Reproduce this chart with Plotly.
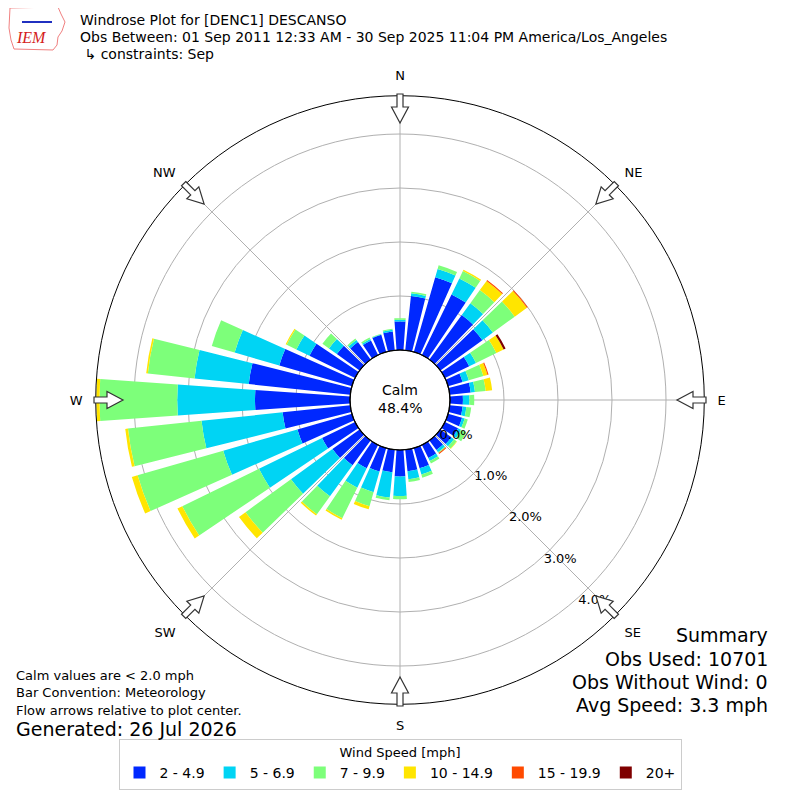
import numpy as np
import plotly.graph_objects as go

# wind directions (deg) and percent of obs per speed bin
directions = list(range(0, 360, 10))
bins = ["2 - 4.9", "5 - 6.9", "7 - 9.9", "10 - 14.9", "15 - 19.9", "20+"]
colors = ["#0028ff", "#00d4f4", "#7dff7a", "#ffe500", "#ff4a00", "#7f0000"]

spd_2_5 = [0.53, 1.01, 1.44, 1.25, 1.02, 0.96, 0.50, 0.28, 0.39, 0.24, 0.24, 0.27,
           0.27, 0.25, 0.22, 0.27, 0.39, 0.40, 0.49, 0.42, 0.45, 0.48, 0.57, 0.62,
           0.68, 1.05, 1.26, 1.76, 1.89, 1.40, 0.94, 0.52, 0.40, 0.30, 0.33, 0.35]
spd_5_7 = [0.03, 0.05, 0.16, 0.33, 0.27, 0.24, 0.14, 0.12, 0.08, 0.12, 0.07, 0.05,
           0.06, 0.06, 0.05, 0.06, 0.12, 0.15, 0.36, 0.47, 0.40, 0.40, 0.71, 0.95,
           1.30, 1.43, 1.51, 1.44, 1.01, 0.86, 0.27, 0.18, 0.05, 0.03, 0.01, 0.03]
spd_7_10 = [0.03, 0.03, 0.07, 0.15, 0.30, 0.50, 0.42, 0.28, 0.20, 0.09, 0.09, 0.06,
            0.11, 0.06, 0.02, 0.05, 0.06, 0.05, 0.06, 0.05, 0.27, 0.63, 0.41, 1.04,
            1.58, 1.65, 1.37, 1.44, 0.87, 0.44, 0.20, 0.15, 0.03, 0.03, 0.01, 0.02]
spd_10_15 = [0, 0, 0, 0.03, 0.21, 0.28, 0.15, 0.08, 0.12, 0, 0, 0,
             0, 0.01, 0, 0, 0, 0, 0, 0, 0.06, 0.03, 0.03, 0.15,
             0.10, 0.11, 0.05, 0.06, 0.03, 0, 0.02, 0, 0, 0, 0, 0]
spd_15_20 = [0, 0, 0, 0, 0.02, 0.02, 0, 0.02, 0, 0, 0, 0,
             0, 0, 0.02, 0, 0, 0, 0, 0, 0, 0, 0, 0,
             0, 0, 0, 0, 0, 0, 0, 0, 0, 0, 0, 0]
spd_20 = [0, 0, 0, 0, 0, 0, 0.04, 0, 0, 0, 0, 0,
          0, 0, 0, 0, 0, 0, 0, 0, 0, 0, 0, 0,
          0, 0, 0, 0, 0, 0, 0, 0, 0, 0, 0, 0]
series = [spd_2_5, spd_5_7, spd_7_10, spd_10_15, spd_15_20, spd_20]

compass = [0, 45, 90, 135, 180, 225, 270, 315]
compass_txt = ["N", "NE", "E", "SE", "S", "SW", "W", "NW"]
rticks = [0, 1, 2, 3, 4]
calm_pct = 48.4

# page has an 8px body margin, so lay out in screen px and shift
OFF = 8
FW = FH = 792
cx, cy = 400, 400          # plot center on screen (px)
R_out = 304.3              # outer circle radius (px)
hole = 50 / R_out
half = R_out / FW
pcx = (cx - OFF) / FW
pcy = 1 - (cy - OFF) / FH


def P(x, y):
    return (x - OFF) / FW, 1 - (y - OFF) / FH


fig = go.Figure()
for name, col, vals in zip(bins, colors, series):
    fig.add_trace(go.Barpolar(r=vals, theta=directions, width=8, name=name,
                              marker_color=col, marker_line_width=0))

# flow arrows on the rim, pointing at center
shapes = []
for a in compass:
    t = np.radians(a)
    out = np.array([np.sin(t), -np.cos(t)])
    u = -out
    v = np.array([np.cos(t), np.sin(t)])
    T = np.array([cx, cy]) + 306 * out
    pts = [T + 3 * v, T + 13 * u + 3 * v, T + 13 * u + 8.5 * v, T + 29 * u,
           T + 13 * u - 8.5 * v, T + 13 * u - 3 * v, T - 3 * v]
    path = "M " + " L ".join("%.5f,%.5f" % P(*p) for p in pts) + " Z"
    shapes.append(dict(type="path", xref="paper", yref="paper", path=path,
                       fillcolor="white", line=dict(color="#333333", width=1.2)))

# calm circle
rh = hole * half
shapes.append(dict(type="circle", xref="paper", yref="paper",
                   x0=pcx - rh, x1=pcx + rh, y0=pcy - rh, y1=pcy + rh,
                   line=dict(color="black", width=1.2), fillcolor="rgba(0,0,0,0)"))

# rough IEM logo outline
logo = [(10, 8), (58, 7), (61, 14), (65, 22), (62, 31), (58, 37), (57, 45),
        (53, 50), (14, 49), (11, 40), (9, 28), (10, 8)]
shapes.append(dict(type="path", xref="paper", yref="paper",
                   path="M " + " L ".join("%.5f,%.5f" % P(*p) for p in logo) + " Z",
                   line=dict(color="#f08080", width=1)))
shapes.append(dict(type="line", xref="paper", yref="paper",
                   x0=P(22, 22)[0], y0=P(22, 22)[1], x1=P(52, 22)[0], y1=P(52, 22)[1],
                   line=dict(color="#2030c0", width=2)))


def txt(x, y, s, size, anchor="left", **kw):
    xp, yp = P(x, y)
    return dict(x=xp, y=yp, xanchor=anchor, yanchor="middle", text=s,
                showarrow=False, font=dict(size=size, **kw))


ann = [
    txt(400, 390, "Calm", 14, "center"),
    txt(400, 408, f"{calm_pct}%", 14, "center"),
    txt(78, 20, "Windrose Plot for [DENC1] DESCANSO", 14),
    txt(78, 37, "Obs Between: 01 Sep 2011 12:33 AM - 30 Sep 2025 11:04 PM America/Los_Angeles", 14),
    txt(78, 54, " \u21b3 constraints: Sep", 14),
    txt(14, 675, "Calm values are < 2.0 mph", 13),
    txt(14, 692, "Bar Convention: Meteorology", 13),
    txt(14, 710, "Flow arrows relative to plot center.", 13),
    txt(14, 729, "Generated: 26 Jul 2026", 19),
    txt(770, 635, "Summary", 19, "right"),
    txt(770, 659, "Obs Used: 10701", 19, "right"),
    txt(770, 682, "Obs Without Wind: 0", 19, "right"),
    txt(770, 705, "Avg Speed: 3.3 mph", 19, "right"),
    txt(31, 38, "<i>IEM</i>", 16, "center", color="#d42020", family="Liberation Serif"),
]

fig.update_layout(
    width=FW, height=FH,
    margin=dict(l=0, r=0, t=0, b=0),
    paper_bgcolor="white",
    font=dict(family="DejaVu Sans", size=13, color="black"),
    polar=dict(
        domain=dict(x=[pcx - half, pcx + half], y=[pcy - half, pcy + half]),
        hole=hole,
        bgcolor="white",
        barmode="stack",
        radialaxis=dict(range=[0, (R_out - 50) / 54], tickvals=rticks,
                        ticktext=["%.1f%%" % v for v in rticks], angle=-50,
                        tickangle=-50, side="counterclockwise",
                        showline=False, ticks="", gridcolor="#b0b0b0",
                        tickfont=dict(size=13)),
        angularaxis=dict(rotation=90, direction="clockwise", tickvals=compass,
                         ticktext=compass_txt, showline=True, linecolor="black",
                         linewidth=1, gridcolor="#b0b0b0", ticks="outside",
                         ticklen=10, tickcolor="rgba(0,0,0,0)",
                         tickfont=dict(size=13)),
    ),
    legend=dict(orientation="h", x=pcx, xanchor="center", y=P(0, 790)[1], yanchor="bottom",
                bordercolor="#cccccc", borderwidth=1, font=dict(size=14),
                title=dict(text="Wind Speed [mph]", side="top center", font=dict(size=13)),
                itemsizing="constant"),
    shapes=shapes,
    annotations=ann,
)

fig.write_html("out.html")
